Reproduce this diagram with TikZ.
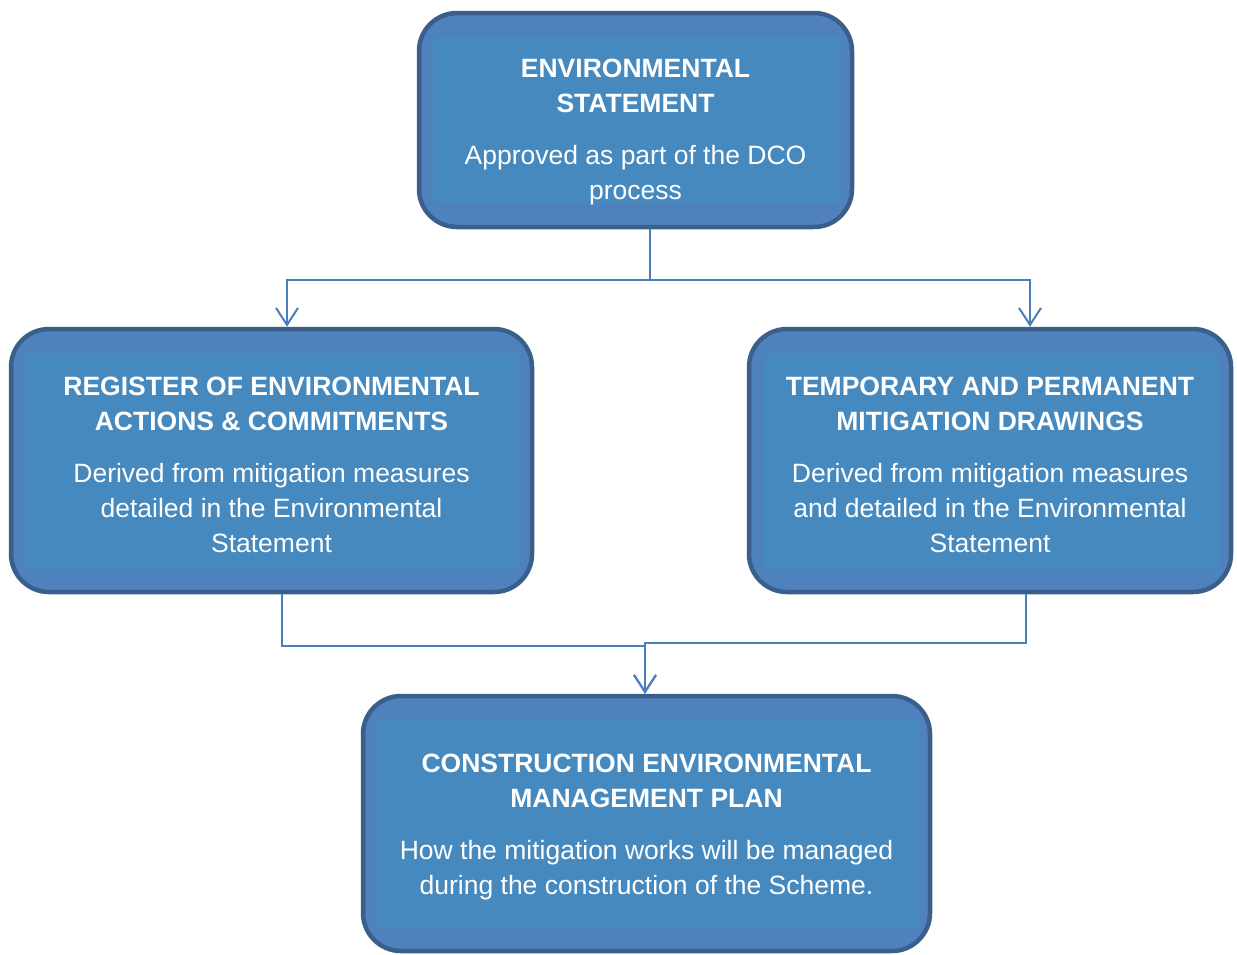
\documentclass[tikz,border=0pt]{standalone}
\usepackage{fontspec}
\setmainfont{Liberation Sans}
\usetikzlibrary{arrows.meta}
\definecolor{boxouter}{HTML}{4F81BD}
\definecolor{boxinner}{HTML}{4589BE}
\definecolor{boxedge}{HTML}{3A5F8B}
\definecolor{linkblue}{HTML}{4A7EBB}
\begin{document}
\begin{tikzpicture}[
  x = 1pt, y = -1pt,
  stage/.style = {draw = boxedge, line width = 4.5pt, fill = boxouter,
    rounded corners = 38pt, inner sep = 0pt,
    path picture = {\fill[boxinner, sharp corners]
      ([xshift = 14pt, yshift = -24pt]path picture bounding box.north west) rectangle
      ([xshift = -12pt, yshift = 23pt]path picture bounding box.south east);}},
  caption/.style = {align = center, text = white, inner sep = 0pt,
    font = \fontsize{26.5}{35}\selectfont},
  link/.style = {draw = linkblue, line width = 2pt,
    -{Straight Barb[length = 17pt, width = 22pt, line width = 2pt]}},
  ]
  \useasboundingbox (0,0) rectangle (1237,954);
  \node[stage, minimum width = 433pt, minimum height = 214pt] (es) at (635.5,120) {};
  \node[caption] (es text) at ([yshift = -11.5pt]es.center)
    {\textbf{ENVIRONMENTAL}\\\textbf{STATEMENT}\\[17pt]Approved as part of the DCO\\process};
  \node[stage, minimum width = 521pt, minimum height = 263pt] (reg) at (271.5,460.5) {};
  \node[caption] (reg text) at ([yshift = -4pt]reg.center)
    {\textbf{REGISTER OF ENVIRONMENTAL}\\\textbf{ACTIONS \& COMMITMENTS}\\[17pt]Derived from mitigation measures\\detailed in the Environmental\\Statement};
  \node[stage, minimum width = 482pt, minimum height = 263pt] (tmd) at (990,460.5) {};
  \node[caption] (tmd text) at ([yshift = -4pt]tmd.center)
    {\textbf{TEMPORARY AND PERMANENT}\\\textbf{MITIGATION DRAWINGS}\\[17pt]Derived from mitigation measures\\and detailed in the Environmental\\Statement};
  \node[stage, minimum width = 567pt, minimum height = 255pt] (cemp) at (646.5,823.5) {};
  \node[caption] (cemp text) at ([yshift = -3.5pt]cemp.center)
    {\textbf{CONSTRUCTION ENVIRONMENTAL}\\\textbf{MANAGEMENT PLAN}\\[17pt]How the mitigation works will be managed\\during the construction of the Scheme.};
  \draw[link] ([xshift = 14.5pt]es.south) -- ++(0,51) -| ([xshift = 15.5pt]reg.north);
  \draw[link] ([xshift = 14.5pt]es.south) -- ++(0,51) -| ([xshift = 40pt]tmd.north);
  \draw[link] ([xshift = 10.5pt]reg.south) -- ++(0,52) -| ([xshift = -1.5pt]cemp.north);
  \draw[link] ([xshift = 36pt]tmd.south) -- ++(0,49) -| ([xshift = -1.5pt]cemp.north);
\end{tikzpicture}
\end{document}
